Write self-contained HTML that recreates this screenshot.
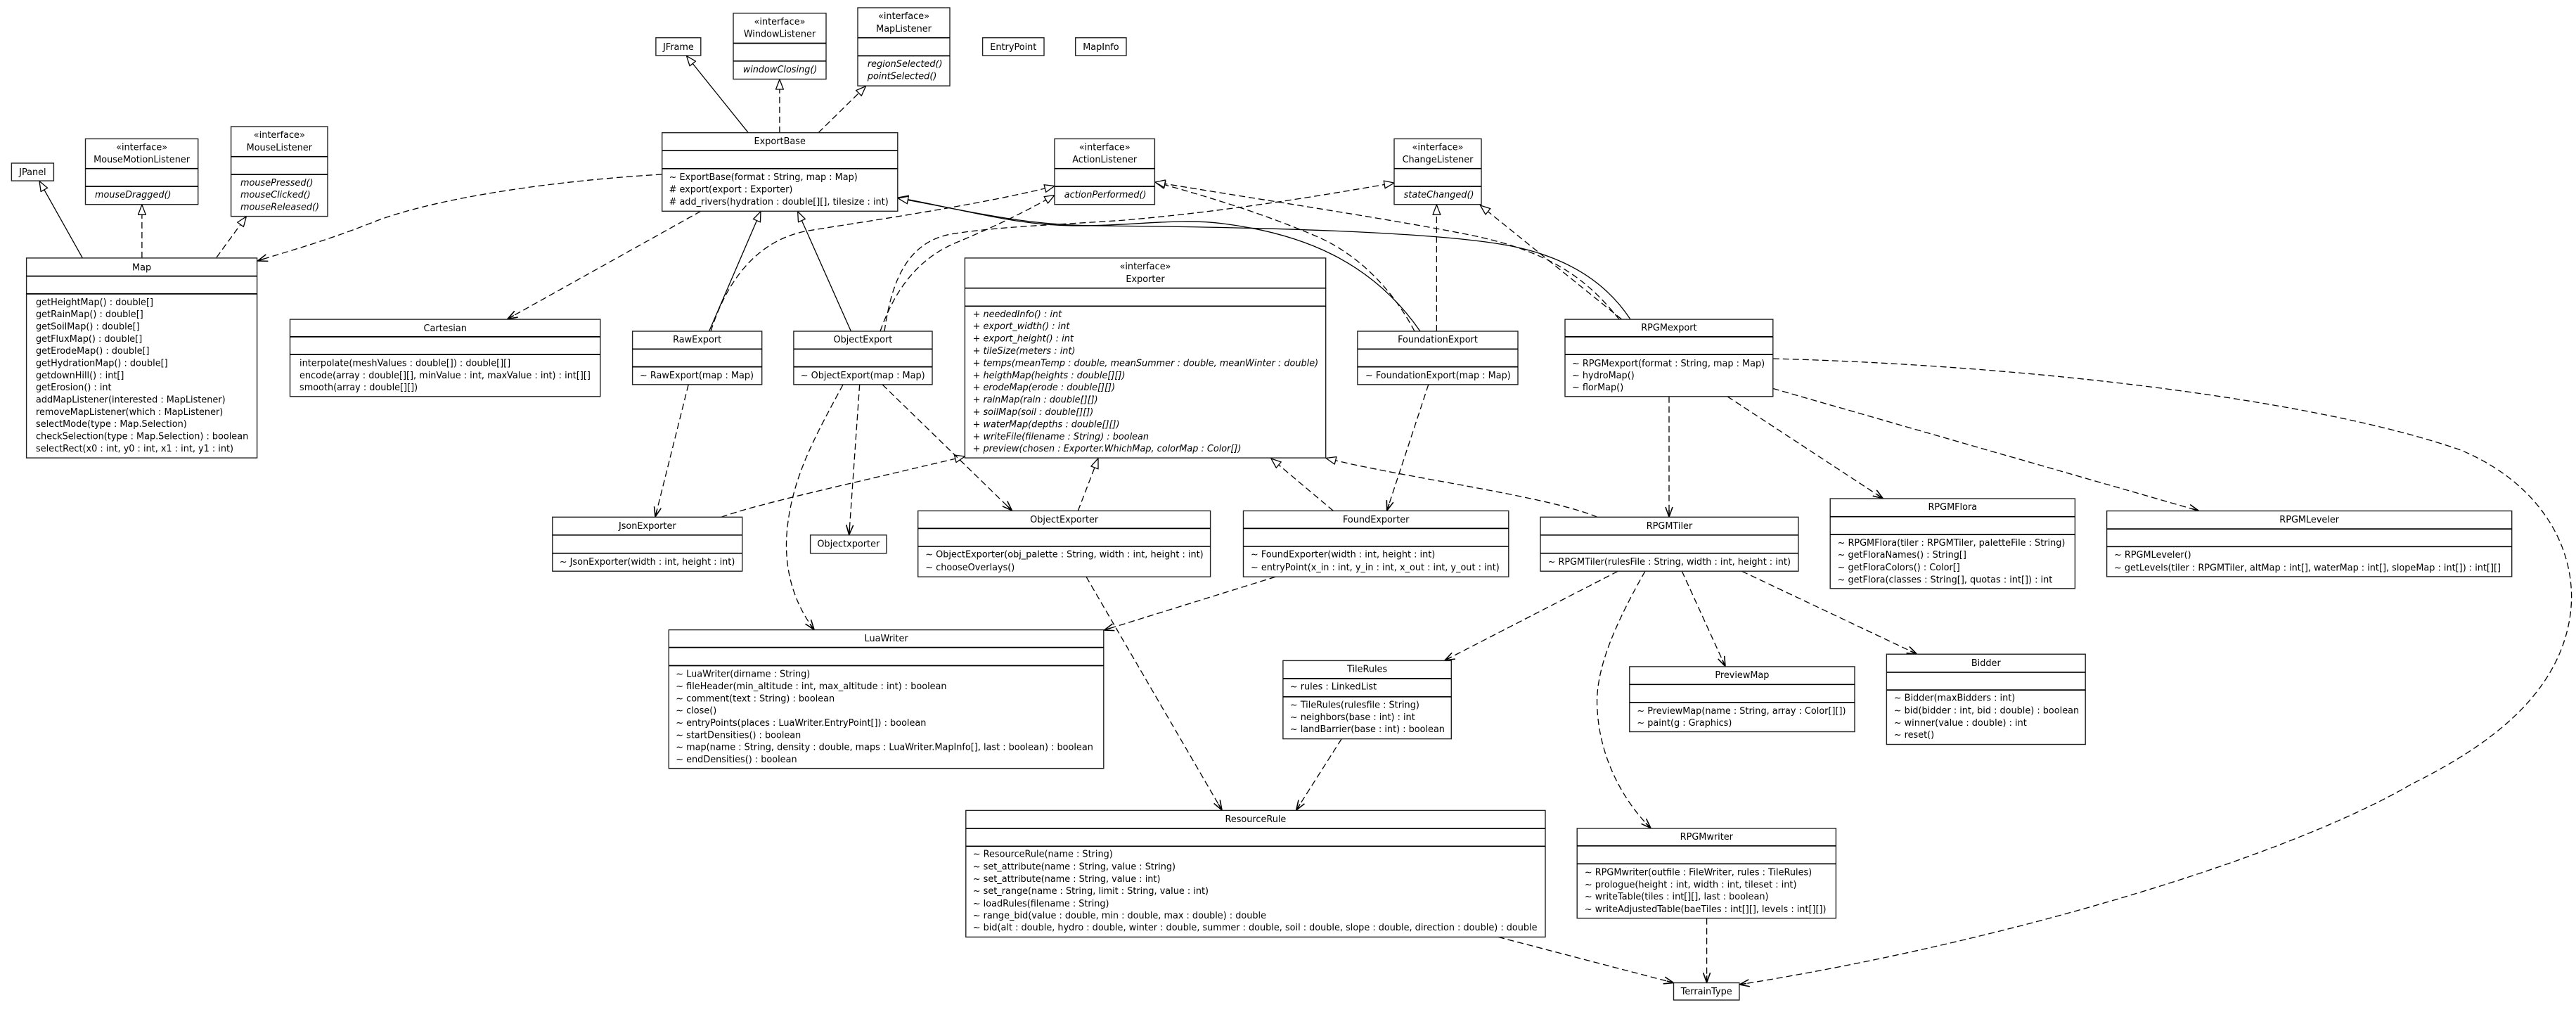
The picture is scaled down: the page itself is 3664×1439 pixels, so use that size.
<!DOCTYPE html>
<html><head><meta charset="utf-8"><style>
html,body{margin:0;padding:0;background:#fff;}
svg{display:block;}
.b{fill:#fff;stroke:#222;stroke-width:1.4}
.d{stroke:#000;stroke-width:1.7}
.sl{fill:none;stroke:#000;stroke-width:1.3}
.dl{fill:none;stroke:#000;stroke-width:1.3;stroke-dasharray:9 5}
text{font-family:"DejaVu Sans","Liberation Sans",sans-serif;font-size:12.85px;fill:#000}
.c{text-anchor:middle}
.i{font-style:italic}
</style></head><body>
<svg width="3664" height="1439" viewBox="0 0 3664 1439" xmlns="http://www.w3.org/2000/svg">
<defs>
<marker id="t" viewBox="0 0 16 12" markerWidth="16" markerHeight="12" refX="15" refY="6" orient="auto" markerUnits="userSpaceOnUse"><path d="M1,0.6 L15,6 L1,11.4 Z" fill="#fff" stroke="#000" stroke-width="1.3" stroke-dasharray="none"/></marker>
<marker id="v" viewBox="0 0 16 12" markerWidth="16" markerHeight="12" refX="15" refY="6" orient="auto" markerUnits="userSpaceOnUse"><path d="M1,1 L15,6 L1,11 M15,6 L5,6" fill="none" stroke="#000" stroke-width="1.6" stroke-dasharray="none"/></marker>
</defs>
<rect width="3664" height="1439" fill="#fff"/>

<!-- generalizations -->
<path class="sl" d="M117.4,366.9 L56,257.6" marker-end="url(#t)"/>
<path class="sl" d="M1064.3,188.7 L976.5,79.5" marker-end="url(#t)"/>
<path class="sl" d="M1008.6,471 L1082,300.8" marker-end="url(#t)"/>
<path class="sl" d="M1210.4,471 L1134.7,300.8" marker-end="url(#t)"/>
<path class="sl" d="M2020,471 C1950,370 1850,332 1740,318 C1680,310 1620,320 1540,321 C1450,322 1380,300 1277.5,281" marker-end="url(#t)"/>
<path class="sl" d="M2319,454 C2290,410 2240,368 2150,350 C2050,330 1800,323 1560,321 C1450,320 1380,300 1277.5,282" marker-end="url(#t)"/>

<!-- realizations -->
<path class="dl" d="M201.9,366.9 L201.9,291.2" marker-end="url(#t)"/>
<path class="dl" d="M308,366 L350.3,308" marker-end="url(#t)"/>
<path class="dl" d="M1108.9,188.7 L1108.9,113" marker-end="url(#t)"/>
<path class="dl" d="M1164,188.7 L1231.5,122.6" marker-end="url(#t)"/>
<path class="dl" d="M1011,471 C1035,395 1080,340 1150,328 C1250,312 1400,290 1500,264.5" marker-end="url(#t)"/>
<path class="dl" d="M1252,471 C1270,420 1300,370 1360,345 C1420,320 1460,300 1500,277.5" marker-end="url(#t)"/>
<path class="dl" d="M1258,471 C1268,400 1290,345 1352,333 C1420,322 1500,320 1600,313 C1750,300 1880,278 1983,260" marker-end="url(#t)"/>
<path class="dl" d="M2012,471 C1980,410 1930,360 1870,335 C1800,305 1720,280 1643,259" marker-end="url(#t)"/>
<path class="dl" d="M2303,454 C2260,400 2210,360 2100,336 C2000,315 1800,285 1643,259" marker-end="url(#t)"/>
<path class="dl" d="M2043.4,471 L2043.4,291.2" marker-end="url(#t)"/>
<path class="dl" d="M2306.6,454 L2105.5,292" marker-end="url(#t)"/>
<path class="dl" d="M1025.8,735.3 C1080,716 1200,690 1372.4,649" marker-end="url(#t)"/>
<path class="dl" d="M1533.3,726.4 L1562,651.8" marker-end="url(#t)"/>
<path class="dl" d="M1896.5,726.4 L1808,652" marker-end="url(#t)"/>
<path class="dl" d="M2272,735.3 C2200,705 2000,680 1886,651.5" marker-end="url(#t)"/>

<!-- dependencies -->
<path class="dl" d="M941.7,248 C800,256 620,280 528,317 C460,344 400,360 366.5,371" marker-end="url(#v)"/>
<path class="dl" d="M996.8,300.3 L722,453.5" marker-end="url(#v)"/>
<path class="dl" d="M979.2,546.8 L932,735" marker-end="url(#v)"/>
<path class="dl" d="M1199,547 C1160,620 1125,680 1119,760 C1115,820 1135,865 1158,895.3" marker-end="url(#v)"/>
<path class="dl" d="M1222.7,546.8 L1207.7,760.5" marker-end="url(#v)"/>
<path class="dl" d="M1255,546.8 L1439.4,726" marker-end="url(#v)"/>
<path class="dl" d="M2031.8,546.8 L1972.7,726" marker-end="url(#v)"/>
<path class="dl" d="M2374,563.8 L2374,735" marker-end="url(#v)"/>
<path class="dl" d="M2457,563.8 L2678.2,708.7" marker-end="url(#v)"/>
<path class="dl" d="M2521.7,552.4 L3127.3,726.2" marker-end="url(#v)"/>
<path class="dl" d="M2521.8,510 C2900,520 3300,570 3500,640 C3620,690 3670,790 3655,880 C3635,1000 3520,1070 3430,1115 C3250,1220 2850,1340 2474.2,1400" marker-end="url(#v)"/>
<path class="dl" d="M2301.4,812.2 L2055,939" marker-end="url(#v)"/>
<path class="dl" d="M2340,812.2 C2290,900 2268,960 2272,1010 C2276,1080 2310,1140 2348,1177.6" marker-end="url(#v)"/>
<path class="dl" d="M2392.3,812.2 L2454,947.6" marker-end="url(#v)"/>
<path class="dl" d="M2477.4,812.2 L2726.4,930" marker-end="url(#v)"/>
<path class="dl" d="M1908.2,1050.6 L1843.7,1152" marker-end="url(#v)"/>
<path class="dl" d="M1545,820.2 L1738,1152" marker-end="url(#v)"/>
<path class="dl" d="M1814.3,820.2 L1570.5,896" marker-end="url(#v)"/>
<path class="dl" d="M2131,1332.4 L2380.5,1397.5" marker-end="url(#v)"/>
<path class="dl" d="M2427.6,1305.6 L2427.6,1397.2" marker-end="url(#v)"/>

<!-- JPanel -->
<rect class="b" x="16.4" y="232" width="60" height="25.1"/>
<text class="c" x="46.4" y="249">JPanel</text>

<!-- MouseMotionListener -->
<rect class="b" x="121.5" y="197.4" width="160.2" height="93.3"/>
<line class="d" x1="121.5" y1="239.7" x2="281.7" y2="239.7"/>
<line class="d" x1="121.5" y1="265" x2="281.7" y2="265"/>
<text class="c" x="201.6" y="213.6">«interface»</text>
<text class="c" x="201.6" y="231.2">MouseMotionListener</text>
<text class="i" x="135" y="281">mouseDragged()</text>

<!-- MouseListener -->
<rect class="b" x="328.6" y="180" width="137.4" height="127.6"/>
<line class="d" x1="328.6" y1="222.7" x2="466" y2="222.7"/>
<line class="d" x1="328.6" y1="248" x2="466" y2="248"/>
<text class="c" x="397.3" y="196.2">«interface»</text>
<text class="c" x="397.3" y="213.8">MouseListener</text>
<text class="i" x="342" y="263.9">mousePressed()</text>
<text class="i" x="342" y="281.1">mouseClicked()</text>
<text class="i" x="342" y="298.6">mouseReleased()</text>

<!-- Map -->
<rect class="b" x="37.6" y="366.9" width="328" height="284.2"/>
<line class="d" x1="37.6" y1="392.6" x2="365.6" y2="392.6"/>
<line class="d" x1="37.6" y1="417.9" x2="365.6" y2="417.9"/>
<text class="c" x="201.6" y="384.3">Map</text>
<text x="51" y="433.8">getHeightMap() : double[]</text>
<text x="51" y="451.1">getRainMap() : double[]</text>
<text x="51" y="468.5">getSoilMap() : double[]</text>
<text x="51" y="485.8">getFluxMap() : double[]</text>
<text x="51" y="503.1">getErodeMap() : double[]</text>
<text x="51" y="520.5">getHydrationMap() : double[]</text>
<text x="51" y="537.8">getdownHill() : int[]</text>
<text x="51" y="555.1">getErosion() : int</text>
<text x="51" y="572.4">addMapListener(interested : MapListener)</text>
<text x="51" y="589.8">removeMapListener(which : MapListener)</text>
<text x="51" y="607.1">selectMode(type : Map.Selection)</text>
<text x="51" y="624.4">checkSelection(type : Map.Selection) : boolean</text>
<text x="51" y="641.8">selectRect(x0 : int, y0 : int, x1 : int, y1 : int)</text>

<!-- Cartesian -->
<rect class="b" x="412.5" y="454.1" width="441.3" height="109.7"/>
<line class="d" x1="412.5" y1="478.9" x2="853.8" y2="478.9"/>
<line class="d" x1="412.5" y1="504.1" x2="853.8" y2="504.1"/>
<text class="c" x="633.2" y="470.9">Cartesian</text>
<text x="426" y="520.6">interpolate(meshValues : double[]) : double[][]</text>
<text x="426" y="537.8">encode(array : double[][], minValue : int, maxValue : int) : int[][]</text>
<text x="426" y="555">smooth(array : double[][])</text>

<!-- JFrame -->
<rect class="b" x="932.9" y="53.7" width="63.9" height="25.3"/>
<text class="c" x="964.9" y="70.9">JFrame</text>

<!-- WindowListener -->
<rect class="b" x="1043" y="18.8" width="132" height="93.7"/>
<line class="d" x1="1043" y1="61.5" x2="1175" y2="61.5"/>
<line class="d" x1="1043" y1="86.8" x2="1175" y2="86.8"/>
<text class="c" x="1109" y="34.8">«interface»</text>
<text class="c" x="1109" y="52.7">WindowListener</text>
<text class="i" x="1056.7" y="102.8">windowClosing()</text>

<!-- MapListener -->
<rect class="b" x="1220" y="11" width="131" height="111.1"/>
<line class="d" x1="1220" y1="53.7" x2="1351" y2="53.7"/>
<line class="d" x1="1220" y1="79.4" x2="1351" y2="79.4"/>
<text class="c" x="1285.5" y="27">«interface»</text>
<text class="c" x="1285.5" y="44.9">MapListener</text>
<text class="i" x="1233.9" y="94.9">regionSelected()</text>
<text class="i" x="1233.9" y="112.6">pointSelected()</text>

<!-- EntryPoint / MapInfo -->
<rect class="b" x="1397.6" y="53.7" width="87.4" height="25.3"/>
<text class="c" x="1441.3" y="70.9">EntryPoint</text>
<rect class="b" x="1529.7" y="53.7" width="72.3" height="25.3"/>
<text class="c" x="1565.9" y="70.9">MapInfo</text>

<!-- ExportBase -->
<rect class="b" x="941.7" y="188.7" width="335.1" height="111.6"/>
<line class="d" x1="941.7" y1="214.2" x2="1276.8" y2="214.2"/>
<line class="d" x1="941.7" y1="239.8" x2="1276.8" y2="239.8"/>
<text class="c" x="1109.2" y="205.1">ExportBase</text>
<text x="951.6" y="256.1">~ ExportBase(format : String, map : Map)</text>
<text x="951.6" y="273.3">#  export(export : Exporter)</text>
<text x="951.6" y="290.8">#  add_rivers(hydration : double[][], tilesize : int)</text>

<!-- ActionListener -->
<rect class="b" x="1500" y="197.4" width="142.4" height="93.3"/>
<line class="d" x1="1500" y1="239.7" x2="1642.4" y2="239.7"/>
<line class="d" x1="1500" y1="265" x2="1642.4" y2="265"/>
<text class="c" x="1571.2" y="213.6">«interface»</text>
<text class="c" x="1571.2" y="231.2">ActionListener</text>
<text class="i" x="1513.8" y="281">actionPerformed()</text>

<!-- ChangeListener -->
<rect class="b" x="1983" y="197.4" width="124" height="93.3"/>
<line class="d" x1="1983" y1="239.7" x2="2107" y2="239.7"/>
<line class="d" x1="1983" y1="265" x2="2107" y2="265"/>
<text class="c" x="2045" y="213.6">«interface»</text>
<text class="c" x="2045" y="231.2">ChangeListener</text>
<text class="i" x="1996.6" y="281">stateChanged()</text>

<!-- RawExport -->
<rect class="b" x="899.6" y="471" width="184.1" height="75.8"/>
<line class="d" x1="899.6" y1="496.3" x2="1083.7" y2="496.3"/>
<line class="d" x1="899.6" y1="521.6" x2="1083.7" y2="521.6"/>
<text class="c" x="991.6" y="487.1">RawExport</text>
<text x="910" y="538">~ RawExport(map : Map)</text>

<!-- ObjectExport -->
<rect class="b" x="1128.9" y="471" width="197.1" height="75.8"/>
<line class="d" x1="1128.9" y1="496.3" x2="1326" y2="496.3"/>
<line class="d" x1="1128.9" y1="521.6" x2="1326" y2="521.6"/>
<text class="c" x="1227.4" y="487.1">ObjectExport</text>
<text x="1138.8" y="538">~ ObjectExport(map : Map)</text>

<!-- Exporter -->
<rect class="b" x="1372.4" y="366.9" width="513.3" height="284.2"/>
<line class="d" x1="1372.4" y1="409.7" x2="1885.7" y2="409.7"/>
<line class="d" x1="1372.4" y1="435.3" x2="1885.7" y2="435.3"/>
<text class="c" x="1629" y="383.2">«interface»</text>
<text class="c" x="1629" y="401.2">Exporter</text>
<text x="1383.6" y="450.8">+ <tspan class="i">neededInfo() : int</tspan></text>
<text x="1383.6" y="468.2">+ <tspan class="i">export_width() : int</tspan></text>
<text x="1383.6" y="485.6">+ <tspan class="i">export_height() : int</tspan></text>
<text x="1383.6" y="503">+ <tspan class="i">tileSize(meters : int)</tspan></text>
<text x="1383.6" y="520.4">+ <tspan class="i">temps(meanTemp : double, meanSummer : double, meanWinter : double)</tspan></text>
<text x="1383.6" y="537.8">+ <tspan class="i">heigthMap(heights : double[][])</tspan></text>
<text x="1383.6" y="555.2">+ <tspan class="i">erodeMap(erode : double[][])</tspan></text>
<text x="1383.6" y="572.6">+ <tspan class="i">rainMap(rain : double[][])</tspan></text>
<text x="1383.6" y="590">+ <tspan class="i">soilMap(soil : double[][])</tspan></text>
<text x="1383.6" y="607.4">+ <tspan class="i">waterMap(depths : double[][])</tspan></text>
<text x="1383.6" y="624.8">+ <tspan class="i">writeFile(filename : String) : boolean</tspan></text>
<text x="1383.6" y="642.2">+ <tspan class="i">preview(chosen : Exporter.WhichMap, colorMap : Color[])</tspan></text>

<!-- FoundationExport -->
<rect class="b" x="1930.9" y="471" width="228.1" height="75.8"/>
<line class="d" x1="1930.9" y1="496.3" x2="2159" y2="496.3"/>
<line class="d" x1="1930.9" y1="521.6" x2="2159" y2="521.6"/>
<text class="c" x="2045" y="487.1">FoundationExport</text>
<text x="1942" y="538">~ FoundationExport(map : Map)</text>

<!-- RPGMexport -->
<rect class="b" x="2226" y="454.1" width="295.8" height="109.7"/>
<line class="d" x1="2226" y1="478.9" x2="2521.8" y2="478.9"/>
<line class="d" x1="2226" y1="504.1" x2="2521.8" y2="504.1"/>
<text class="c" x="2373.9" y="470.1">RPGMexport</text>
<text x="2236" y="521">~ RPGMexport(format : String, map : Map)</text>
<text x="2236" y="538">~ hydroMap()</text>
<text x="2236" y="555">~ florMap()</text>

<!-- JsonExporter -->
<rect class="b" x="785.8" y="735.3" width="269.9" height="76.9"/>
<line class="d" x1="785.8" y1="760.8" x2="1055.7" y2="760.8"/>
<line class="d" x1="785.8" y1="786.7" x2="1055.7" y2="786.7"/>
<text class="c" x="920.8" y="752.1">JsonExporter</text>
<text x="795.8" y="803">~ JsonExporter(width : int, height : int)</text>

<!-- Objectxporter -->
<rect class="b" x="1152.6" y="760.8" width="108.4" height="25.9"/>
<text class="c" x="1206.8" y="777.5">Objectxporter</text>

<!-- ObjectExporter -->
<rect class="b" x="1305.7" y="726.4" width="415.9" height="93.8"/>
<line class="d" x1="1305.7" y1="751.4" x2="1721.6" y2="751.4"/>
<line class="d" x1="1305.7" y1="776.8" x2="1721.6" y2="776.8"/>
<text class="c" x="1513.7" y="743.1">ObjectExporter</text>
<text x="1316.3" y="792.6">~ ObjectExporter(obj_palette : String, width : int, height : int)</text>
<text x="1316.3" y="811">~ chooseOverlays()</text>

<!-- FoundExporter -->
<rect class="b" x="1768.5" y="726.4" width="377.3" height="93.8"/>
<line class="d" x1="1768.5" y1="751.4" x2="2145.8" y2="751.4"/>
<line class="d" x1="1768.5" y1="776.8" x2="2145.8" y2="776.8"/>
<text class="c" x="1957.2" y="743.1">FoundExporter</text>
<text x="1779" y="792.6">~ FoundExporter(width : int, height : int)</text>
<text x="1779" y="811">~ entryPoint(x_in : int, y_in : int, x_out : int, y_out : int)</text>

<!-- RPGMTiler -->
<rect class="b" x="2191" y="735.3" width="366.9" height="76.9"/>
<line class="d" x1="2191" y1="760.8" x2="2557.9" y2="760.8"/>
<line class="d" x1="2191" y1="786.7" x2="2557.9" y2="786.7"/>
<text class="c" x="2374.5" y="752.1">RPGMTiler</text>
<text x="2201.6" y="803">~ RPGMTiler(rulesFile : String, width : int, height : int)</text>

<!-- RPGMFlora -->
<rect class="b" x="2603.2" y="709" width="348.2" height="127.8"/>
<line class="d" x1="2603.2" y1="734.7" x2="2951.4" y2="734.7"/>
<line class="d" x1="2603.2" y1="759.9" x2="2951.4" y2="759.9"/>
<text class="c" x="2777.3" y="725.2">RPGMFlora</text>
<text x="2613.6" y="776">~ RPGMFlora(tiler : RPGMTiler, paletteFile : String)</text>
<text x="2613.6" y="792.9">~ getFloraNames() : String[]</text>
<text x="2613.6" y="810.8">~ getFloraColors() : Color[]</text>
<text x="2613.6" y="828.3">~ getFlora(classes : String[], quotas : int[]) : int</text>

<!-- RPGMLeveler -->
<rect class="b" x="2996.6" y="726.5" width="576.1" height="93.4"/>
<line class="d" x1="2996.6" y1="752.1" x2="3572.7" y2="752.1"/>
<line class="d" x1="2996.6" y1="777.3" x2="3572.7" y2="777.3"/>
<text class="c" x="3284.7" y="743.1">RPGMLeveler</text>
<text x="3007" y="792.9">~ RPGMLeveler()</text>
<text x="3007" y="811.3">~ getLevels(tiler : RPGMTiler, altMap : int[], waterMap : int[], slopeMap : int[]) : int[][]</text>

<!-- LuaWriter -->
<rect class="b" x="951.3" y="895.6" width="618.5" height="197"/>
<line class="d" x1="951.3" y1="920.6" x2="1569.8" y2="920.6"/>
<line class="d" x1="951.3" y1="946.5" x2="1569.8" y2="946.5"/>
<text class="c" x="1260.6" y="911.9">LuaWriter</text>
<text x="961.3" y="962.7">~ LuaWriter(dirname : String)</text>
<text x="961.3" y="980">~ fileHeader(min_altitude : int, max_altitude : int) : boolean</text>
<text x="961.3" y="997.3">~ comment(text : String) : boolean</text>
<text x="961.3" y="1014.6">~ close()</text>
<text x="961.3" y="1032">~ entryPoints(places : LuaWriter.EntryPoint[]) : boolean</text>
<text x="961.3" y="1049.3">~ startDensities() : boolean</text>
<text x="961.3" y="1066.6">~ map(name : String, density : double, maps : LuaWriter.MapInfo[], last : boolean) : boolean</text>
<text x="961.3" y="1083.9">~ endDensities() : boolean</text>

<!-- TileRules -->
<rect class="b" x="1824.9" y="939.4" width="239.4" height="111.2"/>
<line class="d" x1="1824.9" y1="964.9" x2="2064.3" y2="964.9"/>
<line class="d" x1="1824.9" y1="990.8" x2="2064.3" y2="990.8"/>
<text class="c" x="1944.6" y="955.7">TileRules</text>
<text x="1834.9" y="980.7">~ rules : LinkedList</text>
<text x="1834.9" y="1006.5">~ TileRules(rulesfile : String)</text>
<text x="1834.9" y="1024">~ neighbors(base : int) : int</text>
<text x="1834.9" y="1041">~ landBarrier(base : int) : boolean</text>

<!-- PreviewMap -->
<rect class="b" x="2317.8" y="947.9" width="320.2" height="92.6"/>
<line class="d" x1="2317.8" y1="973.3" x2="2638" y2="973.3"/>
<line class="d" x1="2317.8" y1="998.8" x2="2638" y2="998.8"/>
<text class="c" x="2477.9" y="964.2">PreviewMap</text>
<text x="2328.4" y="1015.1">~ PreviewMap(name : String, array : Color[][])</text>
<text x="2328.4" y="1032">~ paint(g : Graphics)</text>

<!-- Bidder -->
<rect class="b" x="2683.4" y="930.2" width="282.8" height="128.3"/>
<line class="d" x1="2683.4" y1="955.9" x2="2966.2" y2="955.9"/>
<line class="d" x1="2683.4" y1="981.1" x2="2966.2" y2="981.1"/>
<text class="c" x="2824.8" y="946.8">Bidder</text>
<text x="2693.8" y="996.7">~ Bidder(maxBidders : int)</text>
<text x="2693.8" y="1014.6">~ bid(bidder : int, bid : double) : boolean</text>
<text x="2693.8" y="1032">~ winner(value : double) : int</text>
<text x="2693.8" y="1049">~ reset()</text>

<!-- ResourceRule -->
<rect class="b" x="1373.8" y="1152.4" width="824.2" height="180"/>
<line class="d" x1="1373.8" y1="1177.9" x2="2198" y2="1177.9"/>
<line class="d" x1="1373.8" y1="1203.3" x2="2198" y2="1203.3"/>
<text class="c" x="1785.9" y="1169.2">ResourceRule</text>
<text x="1383.8" y="1218.7">~ ResourceRule(name : String)</text>
<text x="1383.8" y="1236.5">~ set_attribute(name : String, value : String)</text>
<text x="1383.8" y="1254">~ set_attribute(name : String, value : int)</text>
<text x="1383.8" y="1271">~ set_range(name : String, limit : String, value : int)</text>
<text x="1383.8" y="1288.9">~ loadRules(filename : String)</text>
<text x="1383.8" y="1305.8">~ range_bid(value : double, min : double, max : double) : double</text>
<text x="1383.8" y="1322.8">~ bid(alt : double, hydro : double, winter : double, summer : double, soil : double, slope : double, direction : double) : double</text>

<!-- RPGMwriter -->
<rect class="b" x="2243.2" y="1177.9" width="368.2" height="127.7"/>
<line class="d" x1="2243.2" y1="1202.8" x2="2611.4" y2="1202.8"/>
<line class="d" x1="2243.2" y1="1228.3" x2="2611.4" y2="1228.3"/>
<text class="c" x="2427.3" y="1194.1">RPGMwriter</text>
<text x="2253.9" y="1244.5">~ RPGMwriter(outfile : FileWriter, rules : TileRules)</text>
<text x="2253.9" y="1262">~ prologue(height : int, width : int, tileset : int)</text>
<text x="2253.9" y="1279">~ writeTable(tiles : int[][], last : boolean)</text>
<text x="2253.9" y="1296.9">~ writeAdjustedTable(baeTiles : int[][], levels : int[][])</text>

<!-- TerrainType -->
<rect class="b" x="2380.5" y="1397.5" width="93.4" height="24.5"/>
<text class="c" x="2427.2" y="1413.8">TerrainType</text>
</svg>
</body></html>
